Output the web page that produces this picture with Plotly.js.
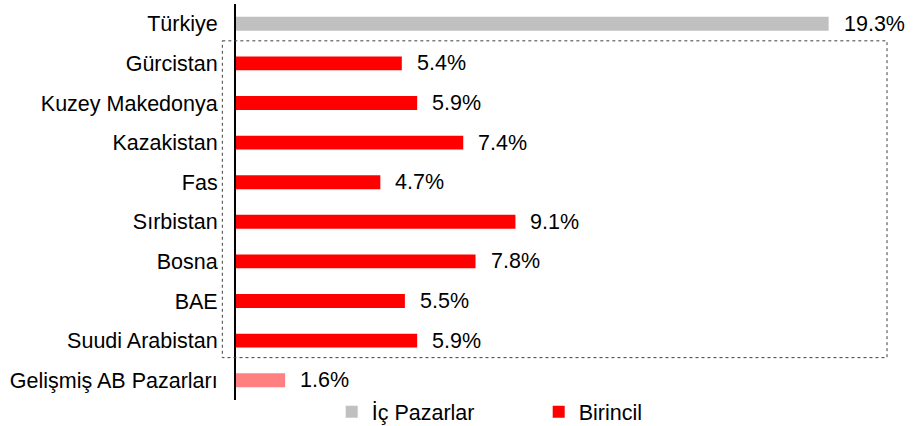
<!DOCTYPE html>
<html>
<head>
<meta charset="utf-8">
<script src="https://cdn.plot.ly/plotly-3.0.1.min.js"></script>
<style>html,body{margin:0;padding:0;background:#fff;}#chart{width:914px;height:426px;}</style>
</head>
<body>
<div id="chart"></div>
<script>
// Data
const categories = ["Türkiye","Gürcistan","Kuzey Makedonya","Kazakistan","Fas","Sırbistan","Bosna","BAE","Suudi Arabistan","Gelişmiş AB Pazarları"];
const values = [19.3, 5.4, 5.9, 7.4, 4.7, 9.1, 7.8, 5.5, 5.9, 1.6];
const domesticCats = ["Türkiye"];
const domesticVals = [19.3];
const primaryCats = ["Gürcistan","Kuzey Makedonya","Kazakistan","Fas","Sırbistan","Bosna","BAE","Suudi Arabistan"];
const primaryVals = [5.4, 5.9, 7.4, 4.7, 9.1, 7.8, 5.5, 5.9];
const developedCats = ["Gelişmiş AB Pazarları"];
const developedVals = [1.6];
const seriesNames = ["İç Pazarlar", "Birincil"];

const FONT = "Liberation Sans, Arial, sans-serif";
const FS = 21.5;

const traces = [
  {type:"bar", orientation:"h", name:seriesNames[0], y:domesticCats, x:domesticVals,
   marker:{color:"#C0C0C0"}, hoverinfo:"skip"},
  {type:"bar", orientation:"h", name:seriesNames[1], y:primaryCats, x:primaryVals,
   marker:{color:"#FF0000"}, hoverinfo:"skip"},
  {type:"bar", orientation:"h", name:"Gelişmiş", y:developedCats, x:developedVals,
   marker:{color:"#FF8080"}, showlegend:false, hoverinfo:"skip"}
];

const annotations = categories.map((c,i)=>({
  x: values[i], y: c, xref:"x", yref:"y", text: values[i].toFixed(1)+"%",
  showarrow:false, xanchor:"left", yanchor:"middle", xshift:13,
  font:{family:FONT, size:FS, color:"#000"}
}));

const layout = {
  width:914, height:426,
  margin:{l:236, r:27, t:4, b:26, autoexpand:false},
  paper_bgcolor:"#fff", plot_bgcolor:"#fff",
  font:{family:FONT, size:FS, color:"#000"},
  barmode:"overlay",
  bargap:0.65,
  showlegend:true,
  legend:{orientation:"h", x:0.147, xanchor:"left", y:-0.03, yanchor:"middle",
          font:{family:FONT, size:FS, color:"#000"}, entrywidth:162, entrywidthmode:"pixels",
          bgcolor:"rgba(0,0,0,0)"},
  xaxis:{range:[0,21.2], showgrid:false, zeroline:false, showticklabels:false, ticks:"", showline:false, fixedrange:true},
  yaxis:{type:"category", categoryorder:"array", categoryarray:categories, autorange:"reversed",
         showgrid:false, zeroline:false, showline:true, linecolor:"#000", linewidth:2,
         ticks:"", ticklabelstandoff:12, tickfont:{family:FONT, size:FS, color:"#000"}, fixedrange:true},
  shapes:[{type:"rect", xref:"paper", yref:"y", x0:-0.021, x1:1.0, y0:0.43, y1:8.43,
           line:{color:"#404040", width:1, dash:"dot"}, fillcolor:"rgba(0,0,0,0)"}],
  annotations: annotations
};

Plotly.newPlot("chart", traces, layout, {staticPlot:true, displayModeBar:false});
</script>
</body>
</html>
